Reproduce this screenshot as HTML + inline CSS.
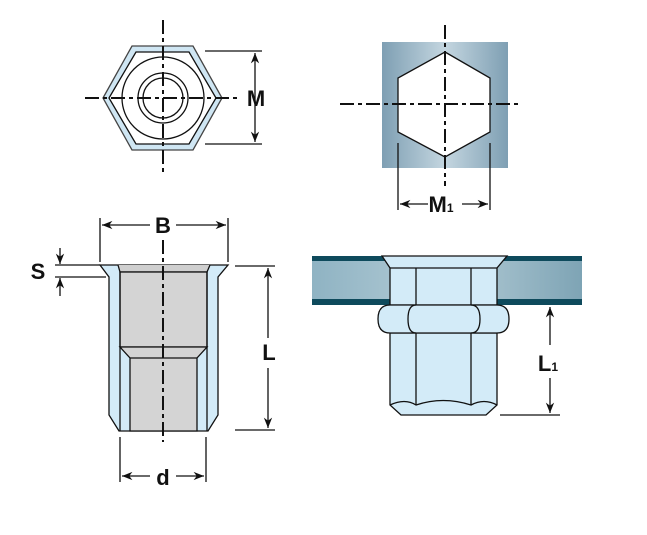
<!DOCTYPE html>
<html><head><style>body{margin:0;background:#fff}svg{display:block}</style></head><body>
<svg width="647" height="535" viewBox="0 0 647 535" xmlns="http://www.w3.org/2000/svg" font-family="Liberation Sans, sans-serif" font-weight="bold">
<defs>
<marker id="a" viewBox="0 0 10 10" refX="10" refY="5" markerWidth="8" markerHeight="8" orient="auto-start-reverse"><path d="M0,1 L10,5 L0,9 L3,5z" fill="#111"/></marker>
<linearGradient id="g" x1="0" x2="1"><stop offset="0" stop-color="#7e9fb3"/><stop offset="0.5" stop-color="#c4d6e0"/><stop offset="1" stop-color="#7e9fb3"/></linearGradient>
<linearGradient id="p" x1="0" x2="1"><stop offset="0" stop-color="#8fb3c3"/><stop offset="0.5" stop-color="#b4ccd6"/><stop offset="1" stop-color="#7ea4b5"/></linearGradient>
</defs>
<g stroke="#111" stroke-width="1.3" fill="none">
<!-- top-left hex -->
<polygon points="103,98 132,46 193,46 222,98 193,150 132,150" fill="#cfe6f3" stroke="#444"/>
<polygon points="109,98 136,52 189,52 216,98 189,144 136,144" fill="#fff"/>
<circle cx="163" cy="98" r="41"/><circle cx="163" cy="98" r="25"/><circle cx="163" cy="98" r="20"/>
<line x1="163" y1="20" x2="163" y2="176" stroke-width="2" stroke-dasharray="14,4,4,4"/>
<line x1="85" y1="98" x2="240" y2="98" stroke-width="2" stroke-dasharray="14,4,4,4"/>
<line x1="205" y1="51" x2="262" y2="51"/><line x1="205" y1="144" x2="262" y2="144"/>
<line x1="255" y1="53" x2="255" y2="142" marker-start="url(#a)" marker-end="url(#a)"/>
<!-- top-right -->
<rect x="382" y="42" width="126" height="126" fill="url(#g)" stroke="none"/>
<polygon points="445,52 490,78 490,132 445,157 398,132 398,78" fill="#fff"/>
<line x1="445" y1="25" x2="445" y2="186" stroke-width="2" stroke-dasharray="14,4,4,4"/>
<line x1="340" y1="104" x2="522" y2="104" stroke-width="2" stroke-dasharray="14,4,4,4"/>
<line x1="398" y1="143" x2="398" y2="210"/><line x1="490" y1="143" x2="490" y2="210"/>
<line x1="400" y1="204" x2="428" y2="204" marker-start="url(#a)"/><line x1="462" y1="204" x2="488" y2="204" marker-end="url(#a)"/>
<!-- bottom-left -->
<path d="M100,265 L228,265 L218,277 L218,415 L208,431 L119,431 L109,415 L109,277 Z" fill="#d3ebf8"/>
<path d="M118,265 L120,272 L207,272 L210,265" fill="#cfcfcf"/>
<rect x="120" y="272" width="87" height="75" fill="#d4d4d4"/>
<path d="M120,347 L207,347 L197,358 L197,431 L130,431 L130,358 Z" fill="#d4d4d4"/>
<line x1="130" y1="358" x2="197" y2="358"/>
<line x1="120" y1="272" x2="120" y2="431"/><line x1="207" y1="272" x2="207" y2="431"/>
<line x1="163" y1="240" x2="163" y2="442" stroke-width="2" stroke-dasharray="14,4,4,4"/>
<line x1="100" y1="218" x2="100" y2="262"/><line x1="228" y1="218" x2="228" y2="262"/>
<line x1="102" y1="225" x2="150" y2="225" marker-start="url(#a)"/><line x1="176" y1="225" x2="226" y2="225" marker-end="url(#a)"/>
<line x1="55" y1="265" x2="100" y2="265"/><line x1="55" y1="277" x2="106" y2="277"/>
<line x1="60" y1="248" x2="60" y2="264" marker-end="url(#a)"/><line x1="60" y1="296" x2="60" y2="278" marker-end="url(#a)"/>
<line x1="235" y1="266" x2="275" y2="266"/><line x1="235" y1="430" x2="275" y2="430"/>
<line x1="268" y1="268" x2="268" y2="338" marker-start="url(#a)"/><line x1="268" y1="368" x2="268" y2="428" marker-end="url(#a)"/>
<line x1="120" y1="437" x2="120" y2="482"/><line x1="206" y1="437" x2="206" y2="482"/>
<line x1="122" y1="476" x2="150" y2="476" marker-start="url(#a)"/><line x1="176" y1="476" x2="204" y2="476" marker-end="url(#a)"/>
<!-- bottom-right -->
<rect x="312" y="256" width="270" height="49" fill="url(#p)" stroke="none"/>
<rect x="312" y="256" width="270" height="5" fill="#0e4a5c" stroke="none"/>
<rect x="312" y="299" width="270" height="6" fill="#0e4a5c" stroke="none"/>
<path d="M382,256 L507,256 L497,268 L497,305 L390,305 L390,268 Z" fill="#d3ebf8"/>
<line x1="390" y1="268" x2="497" y2="268"/>
<line x1="416" y1="268" x2="416" y2="305"/><line x1="471" y1="268" x2="471" y2="305"/>
<path d="M390,333 L390,405 L401,415 L486,415 L497,405 L497,333 Z" fill="#d3ebf8"/>
<path d="M390,405 Q405,398 416,405 Q443,396 471,405 Q484,398 497,405" />
<line x1="416" y1="333" x2="416" y2="405"/><line x1="471" y1="333" x2="471" y2="405"/>
<path d="M390,305 L497,305 Q509,305 509,319 Q509,333 497,333 L390,333 Q378,333 378,319 Q378,305 390,305 Z" fill="#d3ebf8"/>
<path d="M416,305 Q408,305 408,319 Q408,333 416,333 M471,305 Q480,305 480,319 Q480,333 471,333"/>
<line x1="500" y1="415" x2="560" y2="415"/>
<line x1="550" y1="307" x2="550" y2="345" marker-start="url(#a)"/><line x1="550" y1="378" x2="550" y2="413" marker-end="url(#a)"/>
</g>
<g fill="#111" font-size="22" text-anchor="middle">
<text x="256" y="106">M</text>
<text x="441" y="212">M<tspan font-size="12">1</tspan></text>
<text x="163" y="233">B</text>
<text x="38" y="279">S</text>
<text x="269" y="360">L</text>
<text x="163" y="485">d</text>
<text x="548" y="371">L<tspan font-size="12">1</tspan></text>
</g>
</svg>
</body></html>
